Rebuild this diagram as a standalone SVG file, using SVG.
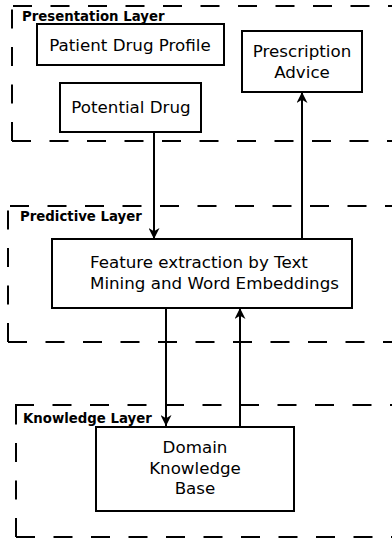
<svg xmlns="http://www.w3.org/2000/svg" width="392" height="546" viewBox="0 0 392 546">
<style>
.layer{fill:none;stroke:#000;stroke-width:2;stroke-dasharray:19 18.5}
.lbl{font-family:"DejaVu Sans",Verdana,sans-serif;font-size:13.3px;font-weight:bold;fill:#000}
.box{fill:#fff;stroke:#000;stroke-width:2}
.txt{font-family:"DejaVu Sans",Verdana,sans-serif;font-size:16.7px;fill:#000;text-anchor:middle}
.edge{fill:none;stroke:#000;stroke-width:2;marker-end:url(#arr)}
</style>
<defs>
<marker id="arr" markerUnits="userSpaceOnUse" markerWidth="11" markerHeight="11" refX="10" refY="5" orient="auto" viewBox="0 0 10 10">
<path d="M0,0 L10,5 L0,10 L3,5 Z" fill="#000"/>
</marker>
</defs>
<rect width="392" height="546" fill="#fff"/>
<g id="presentation-layer">
<path class="layer" d="M13,6 H392"/>
<path class="layer" d="M12,141 V6"/>
<path class="layer" d="M12,141 H392"/>
<text class="lbl" x="22" y="21">Presentation Layer</text>
</g>
<g id="predictive-layer">
<path class="layer" d="M10,206 H392"/>
<path class="layer" d="M8,342 V206"/>
<path class="layer" d="M8,342 H392"/>
<text class="lbl" x="20" y="221">Predictive Layer</text>
</g>
<g id="knowledge-layer">
<path class="layer" d="M15,405 H392"/>
<path class="layer" d="M16,537 V405"/>
<path class="layer" d="M16,537 H392"/>
<text class="lbl" x="23" y="423">Knowledge Layer</text>
</g>
<g id="patient-drug-profile">
<rect class="box" x="37" y="24" width="187" height="41"/>
<text class="txt" x="130" y="51">Patient Drug Profile</text>
</g>
<g id="potential-drug">
<rect class="box" x="60" y="83" width="141" height="49"/>
<text class="txt" x="131" y="113">Potential Drug</text>
</g>
<g id="prescription-advice">
<rect class="box" x="242" y="31" width="120" height="61"/>
<text class="txt" x="302" y="57">Prescription</text>
<text class="txt" x="302" y="78">Advice</text>
</g>
<g id="feature-extraction">
<rect class="box" x="52" y="239" width="300" height="69"/>
<text class="txt" x="90" y="268" style="text-anchor:start">Feature extraction by Text</text>
<text class="txt" x="90" y="289" style="text-anchor:start">Mining and Word Embeddings</text>
</g>
<g id="domain-knowledge-base">
<rect class="box" x="96" y="427" width="198" height="84"/>
<text class="txt" x="195" y="453">Domain</text>
<text class="txt" x="195" y="474">Knowledge</text>
<text class="txt" x="195" y="494">Base</text>
</g>
<g id="connectors">
<path class="edge" d="M154,132 V239"/>
<path class="edge" d="M302,239 V92"/>
<path class="edge" d="M166,308 V426"/>
<path class="edge" d="M240,427 V308"/>
</g>
</svg>
